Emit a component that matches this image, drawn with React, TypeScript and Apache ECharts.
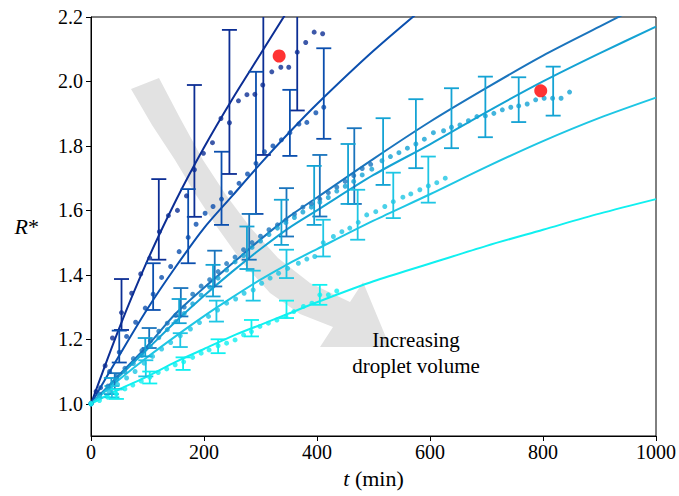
import React, { useEffect, useRef } from "react";
import * as echarts from "echarts";

// ---------- data ----------
const S1_T = [0, 9, 25, 38, 54, 72, 88, 104, 121, 137, 153, 169, 183, 199, 215, 230, 245, 261, 276, 290, 304, 320, 336, 350, 365, 380, 395, 410];
const S1_R = [1.0, 1.038, 1.118, 1.204, 1.283, 1.343, 1.403, 1.452, 1.534, 1.584, 1.6, 1.645, 1.726, 1.777, 1.81, 1.885, 1.872, 1.94, 1.959, 1.96, 1.989, 2.03, 2.044, 2.044, 2.091, 2.121, 2.153, 2.148];
const S1_BAR_T = [54, 120, 183, 245, 305, 365];
const S1_BAR_LO = [1.229, 1.447, 1.58, 1.713, 1.772, 1.91];
const S1_BAR_HI = [1.387, 1.697, 1.989, 2.16, 2.45, 2.45];

const S2_T = [0, 17, 33, 50, 63, 79, 96, 110, 125, 141, 156, 172, 186, 202, 216, 231, 247, 262, 277, 292, 307, 322, 337, 352, 368, 382, 398, 412];
const S2_R = [1.0, 1.05, 1.1, 1.16, 1.209, 1.253, 1.297, 1.34, 1.392, 1.426, 1.472, 1.516, 1.557, 1.591, 1.612, 1.635, 1.655, 1.684, 1.713, 1.746, 1.782, 1.8, 1.819, 1.841, 1.868, 1.873, 1.903, 1.92];
const S2_BAR_T = [50, 110, 172, 231, 292, 352, 412];
const S2_BAR_LO = [1.128, 1.291, 1.436, 1.555, 1.589, 1.769, 1.822];
const S2_BAR_HI = [1.227, 1.436, 1.666, 1.782, 2.03, 1.974, 2.103];

const S3_T = [0, 15, 30, 45, 60, 75, 90, 105, 120, 135, 150, 165, 180, 195, 210, 225, 240, 255, 270, 285, 300, 315, 330, 345, 360, 375, 390, 405, 420, 435, 450, 465, 480, 495];
const S3_R = [1.0, 1.03, 1.055, 1.085, 1.11, 1.14, 1.165, 1.195, 1.225, 1.25, 1.275, 1.3, 1.34, 1.365, 1.385, 1.41, 1.435, 1.455, 1.478, 1.5, 1.52, 1.54, 1.555, 1.57, 1.588, 1.61, 1.62, 1.635, 1.655, 1.672, 1.69, 1.708, 1.73, 1.743];
const S3_BAR_T = [42, 103, 159, 219, 280, 346, 405, 466];
const S3_BAR_LO = [1.045, 1.173, 1.271, 1.364, 1.447, 1.519, 1.581, 1.62];
const S3_BAR_HI = [1.095, 1.235, 1.359, 1.475, 1.589, 1.669, 1.772, 1.855];

const S4_T = [0, 15, 30, 45, 60, 75, 90, 105, 120, 135, 150, 165, 180, 195, 210, 225, 240, 255, 270, 285, 300, 315, 330, 345, 360, 375, 390, 405, 420, 435, 450, 465, 480, 497, 515, 530, 545, 560, 575, 590, 606, 624, 638, 653, 668, 683, 698, 713, 728, 743, 757, 772, 787, 802, 817, 832, 847];
const S4_R = [1.0, 1.025, 1.05, 1.075, 1.1, 1.125, 1.15, 1.178, 1.205, 1.23, 1.255, 1.28, 1.31, 1.337, 1.362, 1.39, 1.415, 1.44, 1.46, 1.485, 1.505, 1.525, 1.545, 1.562, 1.578, 1.595, 1.61, 1.625, 1.64, 1.66, 1.675, 1.69, 1.71, 1.728, 1.754, 1.767, 1.779, 1.793, 1.806, 1.821, 1.841, 1.847, 1.858, 1.865, 1.878, 1.891, 1.893, 1.901, 1.912, 1.92, 1.924, 1.93, 1.943, 1.948, 1.948, 1.948, 1.967];
const S4_BAR_T = [36, 96, 156, 216, 276, 337, 395, 455, 517, 575, 638, 698, 757, 818];
const S4_BAR_LO = [1.03, 1.147, 1.25, 1.333, 1.418, 1.493, 1.555, 1.62, 1.679, 1.731, 1.793, 1.827, 1.874, 1.894];
const S4_BAR_HI = [1.08, 1.204, 1.325, 1.431, 1.55, 1.633, 1.738, 1.806, 1.886, 1.945, 1.979, 2.015, 2.013, 2.046];

const S5_T = [0, 16, 31, 47, 63, 78, 94, 109, 125, 141, 158, 176, 192, 208, 224, 240, 256, 271, 287, 302, 317, 332, 348, 367, 382, 396, 411, 429, 444, 458, 473, 488, 504, 520, 535, 552, 566, 582, 597, 612, 627];
const S5_R = [1.0, 1.02, 1.04, 1.06, 1.08, 1.1, 1.126, 1.147, 1.17, 1.19, 1.211, 1.232, 1.252, 1.271, 1.291, 1.312, 1.325, 1.343, 1.353, 1.374, 1.39, 1.405, 1.42, 1.436, 1.449, 1.457, 1.5, 1.519, 1.534, 1.545, 1.563, 1.586, 1.596, 1.612, 1.627, 1.641, 1.651, 1.664, 1.676, 1.686, 1.7];
const S5_BAR_T = [37, 97, 158, 222, 287, 346, 411, 472, 535, 597];
const S5_BAR_LO = [1.02, 1.085, 1.176, 1.255, 1.32, 1.39, 1.457, 1.509, 1.576, 1.624];
const S5_BAR_HI = [1.055, 1.135, 1.219, 1.32, 1.413, 1.478, 1.571, 1.664, 1.717, 1.767];

const S6_T = [0, 15, 30, 45, 60, 74, 89, 104, 119, 134, 149, 164, 180, 195, 209, 225, 240, 255, 270, 284, 299, 314, 329, 345, 359, 376, 391, 405, 420, 435];
const S6_R = [1.0, 1.01, 1.02, 1.03, 1.046, 1.058, 1.07, 1.082, 1.097, 1.108, 1.121, 1.13, 1.144, 1.157, 1.167, 1.18, 1.188, 1.198, 1.214, 1.224, 1.24, 1.25, 1.26, 1.271, 1.286, 1.302, 1.312, 1.338, 1.338, 1.35];
const S6_BAR_T = [45, 104, 163, 225, 284, 346, 405];
const S6_BAR_LO = [1.015, 1.063, 1.105, 1.157, 1.209, 1.266, 1.307];
const S6_BAR_HI = [1.045, 1.1, 1.144, 1.2, 1.26, 1.32, 1.369];

// fitted model curves
const L1_T = [0, 50, 100, 150, 200, 250, 300, 350, 400];
const L1_R = [1.0, 1.235, 1.445, 1.63, 1.795, 1.945, 2.085, 2.225, 2.36];
const L2_T = [0, 50, 100, 150, 200, 250, 300, 350, 400, 500, 600];
const L2_R = [1.0, 1.15, 1.295, 1.425, 1.545, 1.645, 1.745, 1.84, 1.93, 2.095, 2.245];
const L_T = [0, 50, 100, 150, 200, 250, 300, 350, 400, 500, 600, 700, 800, 900, 1000];
const L3_R = [1.0, 1.09, 1.18, 1.28, 1.36, 1.435, 1.51, 1.58, 1.64, 1.76, 1.875, 1.98, 2.08, 2.17, 2.26];
const L4_R = [1.0, 1.085, 1.17, 1.255, 1.335, 1.41, 1.48, 1.545, 1.6, 1.71, 1.805, 1.905, 2.0, 2.087, 2.17];
const L5_R = [1.0, 1.075, 1.145, 1.21, 1.272, 1.33, 1.385, 1.435, 1.48, 1.568, 1.65, 1.735, 1.815, 1.887, 1.95];
const L6_R = [1.0, 1.045, 1.085, 1.13, 1.17, 1.21, 1.245, 1.28, 1.315, 1.38, 1.435, 1.49, 1.54, 1.59, 1.635];

const RED_T = [333, 796];
const RED_R = [2.079, 1.971];

const X_TICKS_INTERVAL = 200;
const Y_TICKS = [1.0, 1.2, 1.4, 1.6, 1.8, 2.0, 2.2];

const COLORS = ["#0c2e94", "#0b4fae", "#1a74bd", "#14a3d4", "#1ec6e4", "#10f0f0"];
const FONT = "'Liberation Serif', 'Times New Roman', Times, serif";

const zip = (a: number[], b: number[]) => a.map((v, i) => [v, b[i]]);
const zip3 = (a: number[], b: number[], c: number[]) => a.map((v, i) => [v, b[i], c[i]]);

function errorSeries(t: number[], lo: number[], hi: number[], color: string) {
  return {
    type: "custom",
    z: 3,
    silent: true,
    encode: { x: 0, y: [1, 2] },
    data: zip3(t, lo, hi),
    renderItem: (params: any, api: any) => {
      const x = api.value(0);
      const a = api.coord([x, api.value(1)]);
      const b = api.coord([x, api.value(2)]);
      const cs = params.coordSys;
      const top = cs.y;
      const bottom = cs.y + cs.height;
      const yTop = Math.max(b[1], top);
      const yBot = Math.min(a[1], bottom);
      const st = { stroke: color, lineWidth: 1.8 };
      const w = 7.5;
      const children: any[] = [
        { type: "line", shape: { x1: a[0], y1: yBot, x2: a[0], y2: yTop }, style: st },
      ];
      if (b[1] >= top) children.push({ type: "line", shape: { x1: a[0] - w, y1: b[1], x2: a[0] + w, y2: b[1] }, style: st });
      if (a[1] <= bottom) children.push({ type: "line", shape: { x1: a[0] - w, y1: a[1], x2: a[0] + w, y2: a[1] }, style: st });
      return { type: "group", children };
    },
  };
}

function dotSeries(t: number[], r: number[], color: string) {
  return {
    type: "scatter",
    z: 4,
    symbol: "circle",
    symbolSize: 5,
    itemStyle: { color },
    data: zip(t, r),
  };
}

function lineSeries(t: number[], r: number[], color: string) {
  return {
    type: "line",
    z: 2,
    showSymbol: false,
    smooth: 0.3,
    clip: true,
    lineStyle: { color, width: 2 },
    data: zip(t, r),
  };
}

export default function App() {
  const ref = useRef<HTMLDivElement>(null);
  useEffect(() => {
    if (!ref.current) return;
    const chart = echarts.init(ref.current, undefined, { renderer: "svg" });
    const arrowPoints = [
      [131, 89], [152, 125], [175, 160], [196, 195], [217, 227], [242, 262], [270, 293], [300, 314], [333, 327],
      [320, 347], [390, 347], [363, 282],
      [350, 302], [310, 283], [278, 258], [250, 227], [226, 195], [203, 160], [180, 118], [159, 78],
    ];
    const option: any = {
      animation: false,
      textStyle: { fontFamily: FONT },
      grid: { left: 91, top: 17, width: 565, height: 419, show: true, borderColor: "#000", borderWidth: 1 },
      xAxis: {
        type: "value",
        min: 0,
        max: 1000,
        interval: X_TICKS_INTERVAL,
        axisLine: { show: true, lineStyle: { color: "#000", width: 1 } },
        axisTick: { show: true, inside: false, length: 5, lineStyle: { color: "#000" } },
        axisLabel: { color: "#000", fontFamily: FONT, fontSize: 20, margin: 6, formatter: (v: number) => String(v) },
        splitLine: { show: false },
        name: "{it|t} (min)",
        nameLocation: "middle",
        nameGap: 31,
        nameTextStyle: {
          color: "#000",
          fontFamily: FONT,
          fontSize: 22,
          rich: { it: { fontStyle: "italic", fontFamily: FONT, fontSize: 22, color: "#000" } },
        },
      },
      yAxis: {
        type: "value",
        min: 0.9,
        max: 2.2,
        axisLine: { show: true, lineStyle: { color: "#000", width: 1 } },
        axisTick: { show: true, inside: false, length: 5, lineStyle: { color: "#000" }, customValues: Y_TICKS },
        axisLabel: {
          color: "#000",
          fontFamily: FONT,
          fontSize: 20,
          margin: 8,
          customValues: Y_TICKS,
          formatter: (v: number) => v.toFixed(1),
        },
        splitLine: { show: false },
        name: "{it|R}*",
        nameLocation: "middle",
        nameRotate: 0,
        nameGap: 52,
        nameTextStyle: {
          color: "#000",
          fontFamily: FONT,
          fontSize: 22,
          rich: { it: { fontStyle: "italic", fontFamily: FONT, fontSize: 22, color: "#000" } },
        },
      },
      graphic: [
        {
          type: "polygon",
          z: 0,
          silent: true,
          shape: { points: arrowPoints },
          style: { fill: "#e2e2e2" },
        },
        {
          type: "text",
          z: 100,
          x: 416,
          y: 327,
          style: {
            text: "Increasing\ndroplet volume",
            fontFamily: FONT,
            fontSize: 21,
            lineHeight: 26,
            fill: "#000",
            align: "center",
            verticalAlign: "top",
          },
        },
      ],
      series: [
        lineSeries(L1_T, L1_R, COLORS[0]),
        lineSeries(L2_T, L2_R, COLORS[1]),
        lineSeries(L_T, L3_R, COLORS[2]),
        lineSeries(L_T, L4_R, COLORS[3]),
        lineSeries(L_T, L5_R, COLORS[4]),
        lineSeries(L_T, L6_R, COLORS[5]),
        errorSeries(S1_BAR_T, S1_BAR_LO, S1_BAR_HI, COLORS[0]),
        errorSeries(S2_BAR_T, S2_BAR_LO, S2_BAR_HI, COLORS[1]),
        errorSeries(S3_BAR_T, S3_BAR_LO, S3_BAR_HI, COLORS[2]),
        errorSeries(S4_BAR_T, S4_BAR_LO, S4_BAR_HI, COLORS[3]),
        errorSeries(S5_BAR_T, S5_BAR_LO, S5_BAR_HI, COLORS[4]),
        errorSeries(S6_BAR_T, S6_BAR_LO, S6_BAR_HI, COLORS[5]),
        dotSeries(S1_T, S1_R, COLORS[0]),
        dotSeries(S2_T, S2_R, COLORS[1]),
        dotSeries(S3_T, S3_R, COLORS[2]),
        dotSeries(S4_T, S4_R, COLORS[3]),
        dotSeries(S5_T, S5_R, COLORS[4]),
        dotSeries(S6_T, S6_R, COLORS[5]),
        {
          type: "scatter",
          z: 5,
          symbol: "circle",
          symbolSize: 13,
          itemStyle: { color: "#ff0000" },
          data: zip(RED_T, RED_R),
        },
      ],
    };
    chart.setOption(option);
    return () => chart.dispose();
  }, []);
  return (
    <div
      ref={ref}
      style={{ position: "fixed", left: 0, top: 0, width: 679, height: 496, background: "#fff" }}
    />
  );
}
